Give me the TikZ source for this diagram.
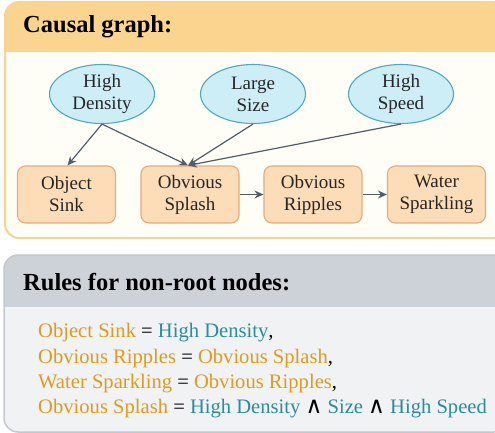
\documentclass[tikz,border=0pt]{standalone}
\usepackage{fontspec}
\setmainfont{Liberation Serif}
\newfontfamily\symfont{DejaVu Sans}
\usetikzlibrary{shapes.geometric,arrows.meta}
\definecolor{hdrorange}{HTML}{FBD490}
\definecolor{bodycream}{HTML}{FEFDF6}
\definecolor{borderorange}{HTML}{FAD392}
\definecolor{ellfill}{HTML}{CDEEF6}
\definecolor{elldraw}{HTML}{4FAABB}
\definecolor{rectfill}{HTML}{FDDDB8}
\definecolor{rectdraw}{HTML}{E8AA7C}
\definecolor{hdrgray}{HTML}{CDD1D8}
\definecolor{bodygray}{HTML}{F1F2F4}
\definecolor{bordergray}{HTML}{C3C7CE}
\definecolor{arrowc}{HTML}{525D6C}
\definecolor{txtorange}{HTML}{E29A1E}
\definecolor{txtteal}{HTML}{2A8C9C}
\tikzset{
  cause/.style={ellipse, draw=elldraw, fill=ellfill, line width=1.1pt, minimum width=105pt, minimum height=59pt, inner sep=0pt, align=center, font=\fontsize{19}{22}\selectfont, text=black!85},
  effect/.style={rectangle, rounded corners=8pt, draw=rectdraw, fill=rectfill, line width=1.1pt, minimum width=98pt, minimum height=57pt, inner sep=0pt, align=center, font=\fontsize{19}{22}\selectfont, text=black!85},
  link/.style={draw=arrowc, line width=1.2pt, -{Stealth[length=9pt,width=8pt,inset=3pt]}},
  heading/.style={anchor=base west, font=\fontsize{24.5}{28}\bfseries\selectfont, inner sep=0pt},
  rule/.style={anchor=base west, font=\fontsize{20.6}{24}\selectfont, inner sep=0pt},
}
\newcommand{\ora}[1]{\textcolor{txtorange}{#1}}
\newcommand{\tea}[1]{\textcolor{txtteal}{#1}}
\newcommand{\andsym}{{\symfont\fontsize{23}{24}\selectfont ∧}}
\begin{document}
\begin{tikzpicture}[x=1pt,y=-1pt]
\useasboundingbox (0,0) rectangle (495,433);
% top panel
\begin{scope}
\clip[rounded corners=14pt] (5,2) rectangle (508,238);
\fill[bodycream] (5,2) rectangle (508,238);
\fill[hdrorange] (5,2) rectangle (508,52);
\end{scope}
\draw[borderorange, line width=2pt, rounded corners=14pt] (5,2) rectangle (508,238);
\node[heading] (h1) at (23,33) {Causal graph:};
% nodes
\node[cause] (hd) at (102,94) {High\\Density};
\node[cause] (ls) at (253,94) {Large\\Size};
\node[cause] (hs) at (401,94) {High\\Speed};
\node[effect] (os) at (66.5,194.5) {Object\\Sink};
\node[effect] (sp) at (190,194.5) {Obvious\\Splash};
\node[effect] (rp) at (313,194.5) {Obvious\\Ripples};
\node[effect] (ws) at (436.5,194.5) {Water\\Sparkling};
\draw[link] (hd.south) -- ([xshift=1pt]os.north);
\draw[link] (hd.south) -- ([xshift=-2pt]sp.north);
\draw[link] (ls.south) -- ([xshift=-2pt]sp.north);
\draw[link] (hs.south) -- ([xshift=-2pt]sp.north);
\draw[link] (sp.east) -- (rp.west);
\draw[link] (rp.east) -- (ws.west);
% bottom panel
\begin{scope}
\clip[rounded corners=14pt] (4,255) rectangle (508,432);
\fill[bodygray] (4,255) rectangle (508,432);
\fill[hdrgray] (4,255) rectangle (508,307);
\end{scope}
\draw[bordergray, line width=1.5pt, rounded corners=14pt] (4,255) rectangle (508,432);
\node[heading] (h2) at (23,290) {Rules for non-root nodes:};
\node[rule] (r1) at (38,337) {\ora{Object Sink} = \tea{High Density},};
\node[rule] (r2) at (38,363) {\ora{Obvious Ripples} = \ora{Obvious Splash},};
\node[rule] (r3) at (38,388) {\ora{Water Sparkling} = \ora{Obvious Ripples},};
\node[rule] (r4) at (38,413) {\ora{Obvious Splash} = \tea{High Density} \andsym{} \tea{Size} \andsym{} \tea{High Speed}};
\end{tikzpicture}
\end{document}
